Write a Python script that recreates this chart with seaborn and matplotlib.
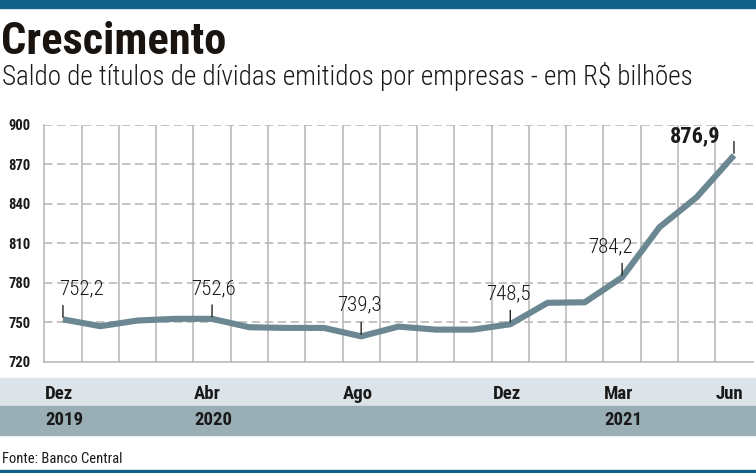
import matplotlib
matplotlib.use('Agg')
import matplotlib.pyplot as plt
import matplotlib.transforms as mtransforms
from matplotlib.patches import Rectangle
import seaborn as sns
import pandas as pd
import numpy as np

# --- dados (Banco Central), saldo em R$ bilhões ---
meses = ['Dez', 'Jan', 'Fev', 'Mar', 'Abr', 'Mai', 'Jun', 'Jul', 'Ago', 'Set',
         'Out', 'Nov', 'Dez', 'Jan', 'Fev', 'Mar', 'Abr', 'Mai', 'Jun']
anos = [2019, 2020, 2020, 2020, 2020, 2020, 2020, 2020, 2020, 2020,
        2020, 2020, 2020, 2021, 2021, 2021, 2021, 2021, 2021]
saldo = [752.2, 747.0, 751.3, 752.6, 752.6, 746.2, 745.7, 745.7, 739.3, 746.7,
         744.4, 744.4, 748.5, 764.8, 765.2, 784.2, 822.2, 845.1, 876.9]
rotulos_mes = {0: 'Dez', 4: 'Abr', 8: 'Ago', 12: 'Dez', 15: 'Mar', 18: 'Jun'}
rotulos_ano = {0: '2019', 4: '2020', 15: '2021'}
destaques = [0, 4, 8, 12, 15, 18]
yticks = [720, 750, 780, 810, 840, 870, 900]

df = pd.DataFrame({'i': np.arange(len(saldo)), 'mes': meses, 'ano': anos, 'saldo': saldo})

# --- estilo ---
sns.set_style('white')
NARROW = ['Liberation Sans Narrow', 'Roboto Condensed', 'DejaVu Sans']
plt.rcParams['font.family'] = NARROW
AZUL = '#0f6189'
LINHA = '#6a8792'
GRADE = '#b4b4b4'

fig = plt.figure(figsize=(7.56, 4.73), dpi=100)
W, H = 756, 473
ax = fig.add_axes([44.3 / W, 1 - 361.7 / H, (752.6 - 44.3) / W, (361.7 - 125) / H])

# faixas e barras decorativas (atrás dos eixos)
faixas = [((0, 1 - 8 / H), 8 / H, AZUL), ((0, 0), 3.5 / H, AZUL),
          ((0, 1 - 406 / H), 28.3 / H, '#dce3e9'), ((0, 1 - 435 / H), 29 / H, '#9aaeb6')]
for xy, h, c in faixas:
    fig.patches.append(Rectangle(xy, 1, h, transform=fig.transFigure, color=c, zorder=-5))

# grade
for yv in yticks[1:]:
    ax.axhline(yv, color=GRADE, lw=1.1, ls=(0, (5.5, 3)), zorder=1)
for xv in np.arange(0.5, len(saldo) - 1, 1.0):
    ax.axvline(xv, color=GRADE, lw=1.1, zorder=1)

sns.lineplot(data=df, x='i', y='saldo', ax=ax, color=LINHA, lw=4.4, zorder=3,
             solid_joinstyle='miter', solid_capstyle='butt')

ax.set_xlim(-0.5, len(saldo) - 0.5)
ax.set_ylim(720, 900)
ax.set_xticks([])
ax.set_yticks(yticks)
ax.set_yticklabels([str(v) for v in yticks], fontsize=10.5, fontweight='bold', color='#1a1a1a')
ax.tick_params(axis='y', length=0, pad=10)
for s in ['top', 'right']:
    ax.spines[s].set_visible(False)
for s in ['left', 'bottom']:
    ax.spines[s].set_color(GRADE)
    ax.spines[s].set_linewidth(1.1)
ax.set_xlabel('')
ax.set_ylabel('')
ax.patch.set_alpha(0)

# rótulos de valor (deslocamentos em pontos)
desloc = {0: (-3, 15, 'left'), 4: (1, 15, 'center'), 8: (-1, 15.5, 'center'),
          12: (-1, 15, 'center'), 15: (-8.5, 15, 'center'), 18: (-10, 6, 'right')}
for i in destaques:
    dx, dy, ha = desloc[i]
    ax.annotate('', xy=(i, saldo[i]), xytext=(0, 10), textcoords='offset points',
                arrowprops=dict(arrowstyle='-', color='#222222', lw=1, shrinkA=0, shrinkB=1.5), zorder=4)
    ultimo = i == len(saldo) - 1
    ax.annotate(f'{saldo[i]:.1f}'.replace('.', ','), xy=(i, saldo[i]), xytext=(dx, dy),
                textcoords='offset points', ha=ha, va='bottom', fontsize=16 if ultimo else 15,
                fontweight='bold' if ultimo else 'light', color='#1a1a1a', zorder=5)

# eixo de meses / anos nas faixas
trans = mtransforms.blended_transform_factory(ax.transData, fig.transFigure)
for i, txt in rotulos_mes.items():
    ax.text(i - 0.48, 1 - 394 / H, txt, transform=trans, ha='left', va='center',
            fontsize=13.5, fontweight='bold', color='#1a1a1a', clip_on=False)
for i, txt in rotulos_ano.items():
    ax.text(i - 0.48, 1 - 420 / H, txt, transform=trans, ha='left', va='center',
            fontsize=13.5, fontweight='bold', color='#1a1a1a', clip_on=False)

# títulos e fonte
fig.text(1 / W, 1 - 54 / H, 'Crescimento', fontsize=32, fontweight='heavy', color='#1a1410', va='baseline')
fig.text(2 / W, 1 - 85 / H, 'Saldo de títulos de dívidas emitidos por empresas - em R$ bilhões',
         fontsize=19.5, fontweight='light', color='#1a1a1a', va='baseline')
fig.text(2 / W, 1 - 463 / H, 'Fonte: Banco Central', fontsize=10.5, color='#1a1a1a', va='baseline')

fig.savefig('out.png', dpi=100)
